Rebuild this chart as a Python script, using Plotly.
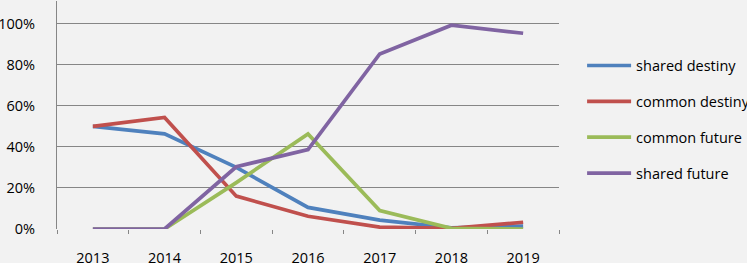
import plotly.graph_objects as go

years = ["2013", "2014", "2015", "2016", "2017", "2018", "2019"]
shared_destiny = [0.50, 0.463, 0.30, 0.105, 0.043, 0.006, 0.014]
common_destiny = [0.50, 0.543, 0.16, 0.062, 0.009, 0.003, 0.033]
common_future = [0.0, 0.0, 0.226, 0.463, 0.09, 0.003, 0.0]
shared_future = [0.0, 0.0, 0.303, 0.387, 0.852, 0.992, 0.953]

series = [
    ("shared destiny", shared_destiny, "#4F81BD"),
    ("common destiny", common_destiny, "#C0504D"),
    ("common future", common_future, "#9BBB59"),
    ("shared future", shared_future, "#8064A2"),
]

fig = go.Figure()
for i, (name, vals, col) in enumerate(series):
    fig.add_trace(go.Scatter(x=years, y=vals, name=name, mode="lines",
                             line=dict(color=col, width=3.7),
                             legendgroup=str(i)))

FONT = "Open Sans"
FS = 14.5
fig.update_layout(
    width=747, height=263,
    paper_bgcolor="#f2f2f2", plot_bgcolor="#f2f2f2",
    margin=dict(l=57, r=188, t=1, b=33.5, autoexpand=False),
    font=dict(family=FONT, size=FS, color="#000000"),
    showlegend=True,
    legend=dict(x=1.046, xanchor="left", y=0.48, yanchor="middle",
                bgcolor="rgba(0,0,0,0)", tracegroupgap=14,
                font=dict(family=FONT, size=FS), itemwidth=44),
    xaxis=dict(type="category", tickson="boundaries", ticks="outside",
               ticklen=4, tickcolor="#868686", showgrid=False,
               showline=False, zeroline=False, ticklabelstandoff=18,
               range=[-0.5, 6.5], automargin=False),
    yaxis=dict(range=[0, 1.11], tickvals=[0, 0.2, 0.4, 0.6, 0.8, 1.0],
               tickformat=".0%", showgrid=True, gridcolor="#868686",
               gridwidth=1, showline=True, linecolor="#868686", linewidth=1,
               zeroline=False, ticks="", ticklabelstandoff=18,
               automargin=False),
)
fig.write_html("out.html", config={"displayModeBar": False},
               post_script="document.body.style.margin='0';document.body.style.overflow='hidden';")
